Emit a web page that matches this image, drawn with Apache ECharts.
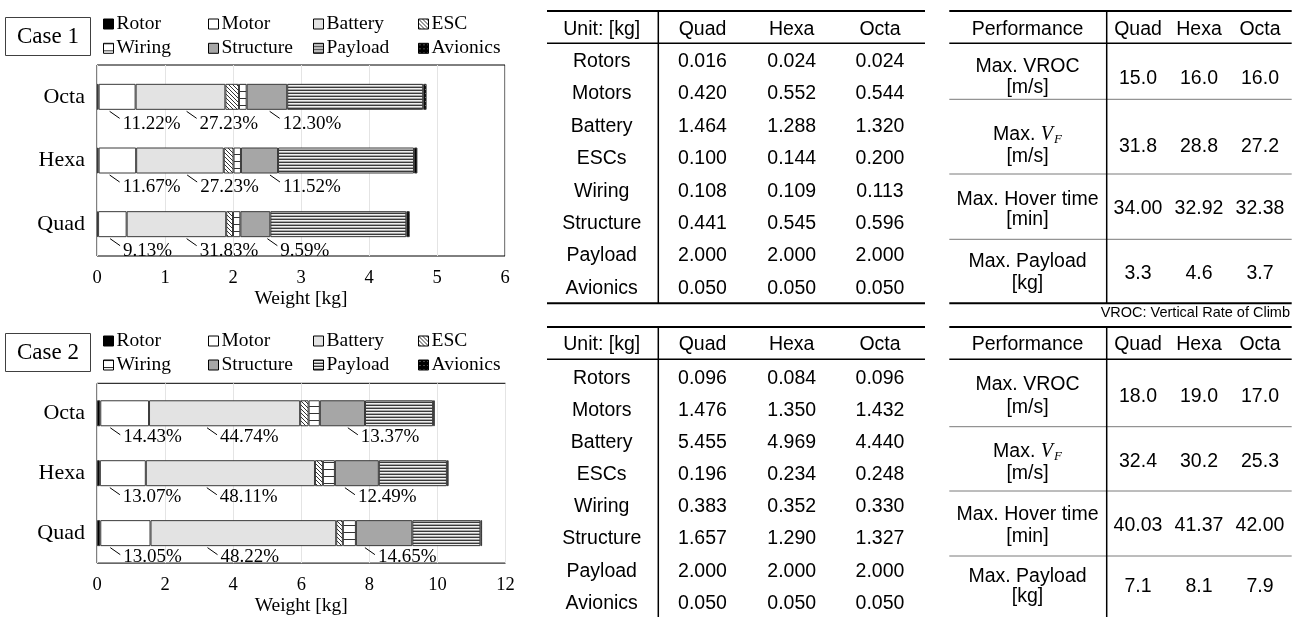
<!DOCTYPE html>
<html>
<head>
<meta charset="utf-8">
<script src="https://cdn.jsdelivr.net/npm/echarts@6/dist/echarts.min.js"></script>
<style>
  html, body { margin: 0; padding: 0; background: #fff; }
  #chart { width: 1296px; height: 617px; }
</style>
</head>
<body>
<div id="chart"></div>
<script>
// ---------------- data ----------------
// Frame types, bottom-to-top on the category axis (and left-to-right in the tables)
const frames = ['Quad', 'Hexa', 'Octa'];
const components = ['Rotor', 'Motor', 'Battery', 'ESC', 'Wiring', 'Structure', 'Payload', 'Avionics'];
const tableRows = ['Rotors', 'Motors', 'Battery', 'ESCs', 'Wiring', 'Structure', 'Payload', 'Avionics'];

// Component weights [kg], in component order
const case1Quad = [0.016, 0.420, 1.464, 0.100, 0.108, 0.441, 2.000, 0.050];
const case1Hexa = [0.024, 0.552, 1.288, 0.144, 0.109, 0.545, 2.000, 0.050];
const case1Octa = [0.024, 0.544, 1.320, 0.200, 0.113, 0.596, 2.000, 0.050];
const case2Quad = [0.096, 1.476, 5.455, 0.196, 0.383, 1.657, 2.000, 0.050];
const case2Hexa = [0.084, 1.350, 4.969, 0.234, 0.352, 1.290, 2.000, 0.050];
const case2Octa = [0.096, 1.432, 4.440, 0.248, 0.330, 1.327, 2.000, 0.050];

// Printed weight shares (Quad, Hexa, Octa)
const case1MotorShare = ['9.13%', '11.67%', '11.22%'];
const case1BatteryShare = ['31.83%', '27.23%', '27.23%'];
const case1StructureShare = ['9.59%', '11.52%', '12.30%'];
const case2MotorShare = ['13.05%', '13.07%', '14.43%'];
const case2BatteryShare = ['48.22%', '48.11%', '44.74%'];
const case2StructureShare = ['14.65%', '12.49%', '13.37%'];

// Weight axis ranges [min, max, step]
const case1Axis = [0, 6, 1];
const case2Axis = [0, 12, 2];

// Performance (Quad, Hexa, Octa)
const perfRows = [['Max. VROC', '[m/s]'], ['Max. V_F', '[m/s]'], ['Max. Hover time', '[min]'], ['Max. Payload', '[kg]']];
const perfDecimals = [1, 1, 2, 1];
const case1Vroc = [15.0, 16.0, 16.0];
const case1Vf = [31.8, 28.8, 27.2];
const case1Hover = [34.00, 32.92, 32.38];
const case1MaxPayload = [3.3, 4.6, 3.7];
const case2Vroc = [18.0, 19.0, 17.0];
const case2Vf = [32.4, 30.2, 25.3];
const case2Hover = [40.03, 41.37, 42.00];
const case2MaxPayload = [7.1, 8.1, 7.9];

// ---------------- styling ----------------
const SERIF = '"Liberation Serif", "Times New Roman", serif';
const SANS = '"Liberation Sans", Arial, sans-serif';

function tile(w, h, draw) {
  const c = document.createElement('canvas');
  c.width = w; c.height = h;
  draw(c.getContext('2d'), w, h);
  return c;
}
const fills = {
  Rotor: '#000000',
  Motor: '#ffffff',
  Battery: '#e3e3e3',
  ESC: { image: tile(4, 4, (g) => {
    g.fillStyle = '#ffffff'; g.fillRect(0, 0, 4, 4);
    g.fillStyle = '#333333'; for (let i = 0; i < 4; i++) g.fillRect(i, i, 1, 1);
  }), repeat: 'repeat' },
  Wiring: { image: tile(8, 7, (g) => {
    g.fillStyle = '#ffffff'; g.fillRect(0, 0, 8, 7);
    g.fillStyle = '#333333'; g.fillRect(0, 0, 8, 1);
  }), repeat: 'repeat' },
  Structure: '#a6a6a6',
  Payload: { image: tile(4, 3, (g) => {
    g.fillStyle = '#f0f0f0'; g.fillRect(0, 0, 4, 3);
    g.fillStyle = '#3a3a3a'; g.fillRect(0, 0, 4, 1);
    g.fillStyle = '#a8a8a8'; g.fillRect(0, 2, 4, 1);
  }), repeat: 'repeat' },
  Avionics: { image: tile(4, 4, (g) => {
    g.fillStyle = '#000000'; g.fillRect(0, 0, 4, 4);
    g.fillStyle = '#9a9a9a'; g.fillRect(1, 1, 1, 1);
  }), repeat: 'repeat' }
};

// ---------------- layout ----------------
const cases = [
  {
    weights: [case1Quad, case1Hexa, case1Octa],
    shares: [case1MotorShare, case1BatteryShare, case1StructureShare],
    axis: case1Axis,
    grid: { left: 97, top: 65, width: 408, height: 191 },
    legendRows: [24, 48.3],
    box: { y: 17.5, text: 'Case 1' },
    // leader-line nudges [px] from the segment start: motor, battery, structure (Quad, Hexa, Octa)
    nudges: [[12, 11, 11], [60, 51, 51], [27, 29, 23]],
    labelDrop: 14
  },
  {
    weights: [case2Quad, case2Hexa, case2Octa],
    shares: [case2MotorShare, case2BatteryShare, case2StructureShare],
    axis: case2Axis,
    grid: { left: 97, top: 383.3, width: 408.5, height: 191.7 },
    legendRows: [341, 365],
    box: { y: 333.5, text: 'Case 2' },
    nudges: [[10, 10, 10], [57, 61, 58], [9, 10, 28]],
    labelDrop: 11
  }
];
const legendCols = [103, 208, 313, 418];
const BAR_W = 26;

const grids = [], xAxes = [], yAxes = [], series = [], legends = [], graphics = [];

cases.forEach((cs, ci) => {
  grids.push(Object.assign({ show: true, borderColor: '#000', borderWidth: 1, containLabel: false }, cs.grid));
  xAxes.push({
    gridIndex: ci, type: 'value', min: cs.axis[0], max: cs.axis[1], interval: cs.axis[2],
    axisLine: { show: false }, axisTick: { show: false },
    splitLine: { show: true, lineStyle: { color: '#e4e4e4', width: 1 } },
    axisLabel: { fontFamily: SERIF, fontSize: 18.5, color: '#000', margin: 13 },
    name: 'Weight [kg]', nameLocation: 'middle', nameGap: 28,
    nameTextStyle: { fontFamily: SERIF, fontSize: 19.5, color: '#000' }
  });
  yAxes.push({
    gridIndex: ci, type: 'category', data: frames,
    axisLine: { show: false }, axisTick: { show: false }, splitLine: { show: false },
    axisLabel: { fontFamily: SERIF, fontSize: 22, color: '#000', margin: 12 }
  });

  components.forEach((name, k) => {
    series.push({
      type: 'bar', name, stack: 'case' + ci, xAxisIndex: ci, yAxisIndex: ci,
      barWidth: BAR_W, silent: true,
      data: cs.weights.map(w => w[k]),
      itemStyle: { color: fills[name], borderColor: '#3a3a3a', borderWidth: 1 },
      emphasis: { disabled: true }
    });
    legends.push({
      data: [name], left: legendCols[k % 4], top: cs.legendRows[Math.floor(k / 4)] - 10,
      orient: 'horizontal', icon: 'rect', itemWidth: 10, itemHeight: 10, itemGap: 0, padding: 0,
      selectedMode: false,
      itemStyle: { borderColor: '#000', borderWidth: 1 },
      textStyle: { fontFamily: SERIF, fontSize: 19.5, color: '#000', lineHeight: 20, padding: [0, 0, 0, -2] }
    });
  });

  // Share annotations with leader lines under the motor, battery and structure segments
  const startIdx = [1, 2, 5];
  const labelData = frames.map((f, i) => {
    const w = cs.weights[i];
    return [i].concat(startIdx.map(k => w.slice(0, k).reduce((a, b) => a + b, 0)));
  });
  series.push({
    type: 'custom', xAxisIndex: ci, yAxisIndex: ci, silent: true, z: 10, clip: false,
    encode: { x: 1, y: 0 },
    data: labelData,
    renderItem(params, api) {
      const i = api.value(0);
      const bottom = api.coord([0, i])[1] + BAR_W / 2;
      const children = [];
      for (let j = 0; j < 3; j++) {
        const x = api.coord([api.value(j + 1), i])[0] + cs.nudges[j][i];
        children.push({
          type: 'line',
          shape: { x1: x, y1: bottom + 1.5, x2: x + 10, y2: bottom + 8.5 },
          style: { stroke: '#000', lineWidth: 1 }
        });
        children.push({
          type: 'text', x: x + 13, y: bottom + cs.labelDrop,
          style: {
            text: cs.shares[j][i], fill: '#000', fontFamily: SERIF, fontSize: 19,
            align: 'left', verticalAlign: 'middle', textAlign: 'left', textVerticalAlign: 'middle'
          }
        });
      }
      return { type: 'group', children };
    }
  });

  // Case tag
  graphics.push({
    type: 'rect', shape: { x: 5.5, y: cs.box.y, width: 85, height: 38 },
    style: { fill: '#fff', stroke: '#404040', lineWidth: 1 }
  });
  graphics.push(txt(cs.box.text, 48, cs.box.y + 19.5, SERIF, 23, 'center'));
});

// ---------------- tables ----------------
function txt(text, x, y, family, size, align, extra) {
  return {
    type: 'text', x, y, silent: true,
    style: Object.assign({
      text, fill: '#000', fontFamily: family, fontSize: size,
      align: align, verticalAlign: 'middle', textAlign: align, textVerticalAlign: 'middle'
    }, extra || {})
  };
}
function hline(x1, x2, y, w, color) {
  return { type: 'line', silent: true, shape: { x1, y1: y, x2, y2: y }, style: { stroke: color || '#000', lineWidth: w } };
}
function vline(x, y1, y2, w) {
  return { type: 'line', silent: true, shape: { x1: x, y1, x2: x, y2 }, style: { stroke: '#000', lineWidth: w } };
}

const TSIZE = 19.5;
const weightCols = [601.7, 702.5, 791.7, 880];
const perfCols = [1027.5, 1138, 1199, 1260];

function weightTable(t) {
  const L = 547, R = 925;
  graphics.push(hline(L, R, t.top, 2));
  graphics.push(hline(L, R, t.rule, 1.5));
  if (t.bottom) graphics.push(hline(L, R, t.bottom, 2));
  graphics.push(vline(658.3, t.top, t.vEnd, 1.5));
  ['Unit: [kg]'].concat(frames).forEach((h, c) => graphics.push(txt(h, weightCols[c], t.headY, SANS, TSIZE, 'center')));
  tableRows.forEach((r, ri) => {
    const y = t.firstRow + ri * t.step;
    graphics.push(txt(r, weightCols[0], y, SANS, TSIZE, 'center'));
    t.weights.forEach((w, fi) => graphics.push(txt(w[ri].toFixed(3), weightCols[fi + 1], y, SANS, TSIZE, 'center')));
  });
}

const measureCtx = document.createElement('canvas').getContext('2d');
function textWidth(str, font) { measureCtx.font = font; return measureCtx.measureText(str).width; }

function perfLabel(line, cx, y) {
  if (line !== 'Max. V_F') return [txt(line, cx, y, SANS, TSIZE, 'center')];
  // "Max. " + italic V with subscript F
  const wA = textWidth('Max. ', TSIZE + 'px ' + SANS);
  const wV = textWidth('V', 'italic 20px ' + SERIF);
  const wF = textWidth('F', 'italic 13px ' + SERIF);
  const x0 = cx - (wA + wV + wF + 1) / 2;
  return [
    txt('Max. ', x0, y, SANS, TSIZE, 'left'),
    txt('V', x0 + wA, y, SERIF, 20, 'left', { fontStyle: 'italic' }),
    txt('F', x0 + wA + wV + 1, y + 5, SERIF, 13, 'left', { fontStyle: 'italic' })
  ];
}

function perfTable(t) {
  const L = 949.3, R = 1291.7;
  graphics.push(hline(L, R, t.top, 2));
  graphics.push(hline(L, R, t.rule, 1.5));
  if (t.bottom) graphics.push(hline(L, R, t.bottom, 2));
  t.seps.forEach(y => graphics.push(hline(L, R, y, 1, '#7a7a7a')));
  graphics.push(vline(1106.7, t.top, t.vEnd, 1.5));
  ['Performance'].concat(frames).forEach((h, c) => graphics.push(txt(h, perfCols[c], t.headY, SANS, TSIZE, 'center')));
  perfRows.forEach((lines, ri) => {
    const ys = t.rowY[ri];
    perfLabel(lines[0], perfCols[0], ys[0]).forEach(g => graphics.push(g));
    graphics.push(txt(lines[1], perfCols[0], ys[1], SANS, TSIZE, 'center'));
    t.values[ri].forEach((v, fi) => graphics.push(txt(v.toFixed(perfDecimals[ri]), perfCols[fi + 1], ys[2], SANS, TSIZE, 'center')));
  });
}

weightTable({ top: 11, rule: 43.3, bottom: 303.3, vEnd: 303.3, headY: 29.3, firstRow: 61.7, step: 32.4,
  weights: [case1Quad, case1Hexa, case1Octa] });
weightTable({ top: 327, rule: 359.3, bottom: null, vEnd: 617, headY: 344.3, firstRow: 378.3, step: 32.14,
  weights: [case2Quad, case2Hexa, case2Octa] });

perfTable({ top: 11, rule: 43.3, bottom: 303.3, vEnd: 303.3, headY: 29.3, seps: [99.3, 174, 239.3],
  rowY: [[66.7, 87.7, 78.5], [135, 156.7, 146.7], [199.3, 220, 208.8], [261.7, 283.3, 273.3]],
  values: [case1Vroc, case1Vf, case1Hover, case1MaxPayload] });
perfTable({ top: 327, rule: 359.3, bottom: null, vEnd: 617, headY: 344.3, seps: [426.7, 491, 556],
  rowY: [[385, 407.3, 396.7], [451.7, 474, 462], [515, 536.7, 525.5], [576.7, 596.7, 586.5]],
  values: [case2Vroc, case2Vf, case2Hover, case2MaxPayload] });

graphics.push(txt('VROC: Vertical Rate of Climb', 1290, 313, SANS, 14.5, 'right'));

// ---------------- chart ----------------
const chart = echarts.init(document.getElementById('chart'), null, { renderer: 'canvas' });
chart.setOption({
  backgroundColor: '#ffffff',
  animation: false,
  tooltip: { show: false },
  grid: grids,
  xAxis: xAxes,
  yAxis: yAxes,
  legend: legends,
  series: series,
  graphic: graphics
});
</script>
</body>
</html>
